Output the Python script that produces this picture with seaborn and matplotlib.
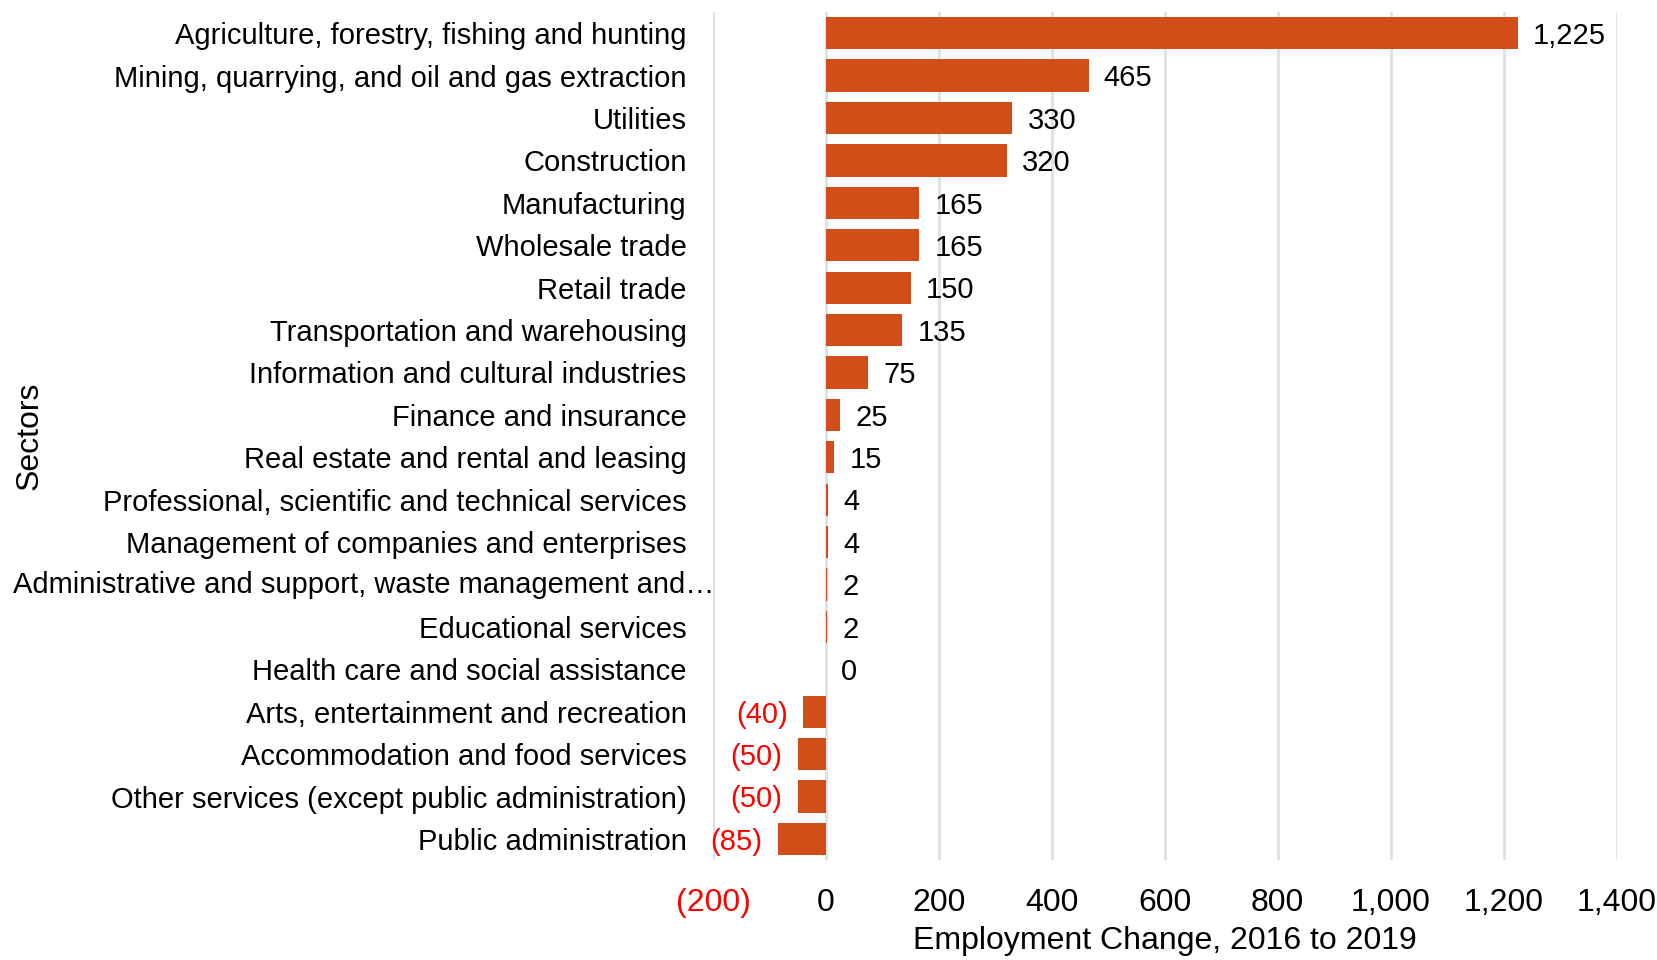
import seaborn as sns
import pandas as pd
import matplotlib.pyplot as plt

sns.set_style('white')
plt.rcParams['font.family'] = ['Liberation Sans', 'DejaVu Sans']
plt.rcParams['font.size'] = 21
plt.rcParams['text.color'] = 'black'
plt.rcParams['xtick.color'] = 'black'
plt.rcParams['ytick.color'] = 'black'
plt.rcParams['axes.labelcolor'] = 'black'

sectors = [
    'Agriculture, forestry, fishing and hunting',
    'Mining, quarrying, and oil and gas extraction',
    'Utilities',
    'Construction',
    'Manufacturing',
    'Wholesale trade',
    'Retail trade',
    'Transportation and warehousing',
    'Information and cultural industries',
    'Finance and insurance',
    'Real estate and rental and leasing',
    'Professional, scientific and technical services',
    'Management of companies and enterprises',
    'Administrative and support, waste management and\u2026',
    'Educational services',
    'Health care and social assistance',
    'Arts, entertainment and recreation',
    'Accommodation and food services',
    'Other services (except public administration)',
    'Public administration',
]
change = [1225, 465, 330, 320, 165, 165, 150, 135, 75, 25, 15, 4, 4, 2, 2, 0,
          -40, -50, -50, -85]
xticks = [-200, 0, 200, 400, 600, 800, 1000, 1200, 1400]

df = pd.DataFrame({'Sectors': sectors, 'change': change})

bar_color = '#D24E19'
neg_color = '#FF0000'


def fmt(v):
    return f'({abs(v):,})' if v < 0 else f'{v:,}'


fig = plt.figure(figsize=(16.58, 9.6), dpi=100)
ax = fig.add_axes([0.430, 0.104, 0.545, 0.8835])

sns.barplot(data=df, x='change', y='Sectors', orient='h', color=bar_color,
            saturation=1, width=0.76, edgecolor='none', ax=ax)

ax.set_xlim(-200, 1400)
ax.set_ylim(len(sectors) - 0.5, -0.5)
ax.set_xticks(xticks)
ax.set_xticklabels([fmt(v) for v in xticks])
for lbl, v in zip(ax.get_xticklabels(), xticks):
    lbl.set_color(neg_color if v < 0 else 'black')

ax.grid(axis='x', color='#DDE0E5', linewidth=2)
ax.set_axisbelow(True)
sns.despine(ax=ax, left=True, bottom=True)
ax.tick_params(axis='both', length=0)
ax.tick_params(axis='y', pad=19)
ax.tick_params(axis='x', pad=20, labelsize=23)

# long label is left aligned at the figure edge in the original
long_label = 'Administrative and support, waste management and\u2026'
ax.set_yticks(range(len(sectors)))
ax.set_yticklabels([s if s != long_label else '' for s in sectors])
ax.text(-0.775, sectors.index(long_label), long_label,
        transform=ax.get_yaxis_transform(), ha='left', va='center')

texts = ax.bar_label(ax.containers[0], labels=[fmt(v) for v in change], padding=11)
for t, v in zip(texts, change):
    t.set_color(neg_color if v < 0 else 'black')
    dx, dy = t.xyann
    t.xyann = (dx, dy - 2)

ax.set_xlabel('Employment Change, 2016 to 2019', fontsize=23, labelpad=6)
ax.set_ylabel('Sectors', fontsize=23)
ax.yaxis.set_label_coords(45 / 1658, 1 - 436 / 960, transform=fig.transFigure)

fig.savefig('out.png', dpi=100)
